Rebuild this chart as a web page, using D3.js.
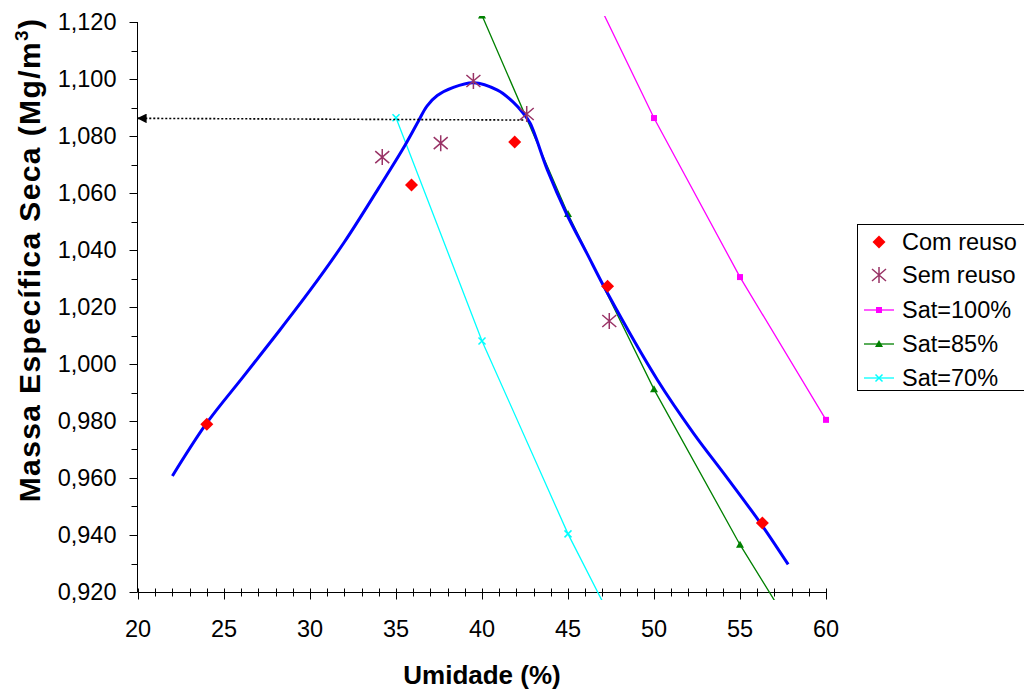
<!DOCTYPE html>
<html><head><meta charset="utf-8">
<script src="https://cdn.jsdelivr.net/npm/d3@7"></script>
<style>body{margin:0;background:#fff}svg{display:block;font-family:"Liberation Sans",Arial,sans-serif}</style>
</head><body><svg id="c" width="1024" height="690"></svg>
<script>
// ---- data ----
const comReusoX = [24.0, 35.9, 41.9, 47.3, 56.3];
const comReusoY = [0.9789, 1.0628, 1.0779, 1.0273, 0.9442];
const semReusoX = [34.2, 37.6, 39.5, 42.6, 47.4];
const semReusoY = [1.0726, 1.0775, 1.0993, 1.0877, 1.0151];
const sat100X = [45, 50, 55, 60];
const sat100Y = [1.1487, 1.0863, 1.0305, 0.9804];
const sat85X = [40, 45, 50, 55, 60];
const sat85Y = [1.1223, 1.0526, 0.9911, 0.9366, 0.8878];
const sat70X = [35, 40, 45, 50];
const sat70Y = [1.0864, 1.0081, 0.9404, 0.8812];
const fitX = [22.0, 24.0, 26.1, 28.0, 30.0, 32.0, 34.0, 35.5, 36.3, 36.8, 37.4, 38.3, 39.5, 40.9, 41.8, 42.4, 42.8, 43.8, 44.9, 46.1, 47.3, 50.2, 52.3, 54.2, 56.2, 57.8];
const fitY = [0.9607, 0.9793, 0.9954, 1.0100, 1.0258, 1.0428, 1.0618, 1.0765, 1.0852, 1.0905, 1.0942, 1.0970, 1.0987, 1.0961, 1.0920, 1.0880, 1.0845, 1.0681, 1.0529, 1.0388, 1.0248, 0.9944, 0.9757, 0.9605, 0.9441, 0.9297];
const refLineX = [42.4, 20];
const refLineY = [1.0856, 1.0862];
const xTicks = [20, 25, 30, 35, 40, 45, 50, 55, 60];
const yTicks = [0.92, 0.94, 0.96, 0.98, 1.00, 1.02, 1.04, 1.06, 1.08, 1.10, 1.12];
const legendLabels = ["Com reuso", "Sem reuso", "Sat=100%", "Sat=85%", "Sat=70%"];

// ---- chart ----
const svg = d3.select("#c");
const x = d3.scaleLinear().domain([20, 60]).range([138, 826]);
const y = d3.scaleLinear().domain([0.92, 1.12]).range([592, 22]);
const fmt = v => d3.format(".3f")(v).replace(".", ",");

svg.append("defs").append("clipPath").attr("id", "clip")
  .append("rect").attr("x", 120).attr("y", 16).attr("width", 720).attr("height", 584);
svg.select("defs").append("marker").attr("id", "arr").attr("viewBox", "0 0 10 10")
  .attr("refX", 9).attr("refY", 5).attr("markerWidth", 6).attr("markerHeight", 6)
  .attr("orient", "auto").append("path").attr("d", "M0,0L10,5L0,10Z").attr("fill", "#000");

// axes
const yAxis = svg.append("g").attr("transform", "translate(137.5,0)");
yAxis.append("line").attr("y1", y(1.12)).attr("y2", y(0.92)).attr("stroke", "#000");
const yMinor = d3.range(0.92, 1.1201, 0.01);
yAxis.selectAll(".ym").data(yMinor).join("line")
  .attr("x1", -6).attr("x2", 0).attr("y1", d => Math.round(y(d)) + 0.5).attr("y2", d => Math.round(y(d)) + 0.5).attr("stroke", "#000");
yAxis.selectAll(".yM").data(yTicks).join("line")
  .attr("x1", -8).attr("x2", 0).attr("y1", d => Math.round(y(d)) + 0.5).attr("y2", d => Math.round(y(d)) + 0.5).attr("stroke", "#000");
yAxis.selectAll("text").data(yTicks).join("text")
  .attr("x", -21).attr("y", d => y(d)).attr("dy", "0.36em").attr("text-anchor", "end")
  .attr("font-size", 23.5).text(fmt);

const xAxis = svg.append("g").attr("transform", "translate(0,592.5)");
xAxis.append("line").attr("x1", x(20)).attr("x2", x(60)).attr("stroke", "#000");
xAxis.selectAll(".xm").data(d3.range(20, 61, 1)).join("line")
  .attr("x1", d => Math.round(x(d)) + 0.5).attr("x2", d => Math.round(x(d)) + 0.5)
  .attr("y1", -4).attr("y2", d => d % 5 === 0 ? 7 : 4).attr("stroke", "#000");
xAxis.selectAll("text").data(xTicks).join("text")
  .attr("x", d => x(d)).attr("y", 44).attr("text-anchor", "middle")
  .attr("font-size", 23.5).text(d => d);

// titles
svg.append("text").attr("x", 482).attr("y", 684).attr("text-anchor", "middle")
  .attr("font-size", 26).attr("font-weight", "bold").text("Umidade (%)");
const yt = svg.append("text").attr("transform", "translate(40,260) rotate(-90)").attr("text-anchor", "middle")
  .attr("font-size", 30).attr("font-weight", "bold").attr("letter-spacing", 1.4);
yt.append("tspan").text("Massa Específica Seca (Mg/m");
yt.append("tspan").attr("dy", -12).attr("font-size", 19).text("3");
yt.append("tspan").attr("dy", 12).text(")");

const plot = svg.append("g").attr("clip-path", "url(#clip)");
const line = d3.line().x(d => x(d[0])).y(d => y(d[1]));
const zip = (a, b) => a.map((v, i) => [v, b[i]]);

// saturation lines
const sats = [
  {X: sat100X, Y: sat100Y, c: "#FF00FF", m: "square"},
  {X: sat85X, Y: sat85Y, c: "#008000", m: "tri"},
  {X: sat70X, Y: sat70Y, c: "#00FFFF", m: "x"}
];
function marker(g, type, c, px, py) {
  if (type === "square") g.append("rect").attr("x", px - 3).attr("y", py - 3).attr("width", 6).attr("height", 6).attr("fill", c);
  else if (type === "tri") g.append("path").attr("d", `M${px},${py-4}L${px+4},${py+3}L${px-4},${py+3}Z`).attr("fill", c);
  else if (type === "x") g.append("path").attr("d", `M${px-3.5},${py-3.5}L${px+3.5},${py+3.5}M${px-3.5},${py+3.5}L${px+3.5},${py-3.5}`).attr("stroke", c).attr("stroke-width", 1.5);
  else if (type === "diamond") g.append("path").attr("d", `M${px},${py-6.5}L${px+6.5},${py}L${px},${py+6.5}L${px-6.5},${py}Z`).attr("fill", c);
  else if (type === "star") g.append("path").attr("d", `M${px},${py-8}L${px},${py+8}M${px-7},${py-6}L${px+7},${py+6}M${px-7},${py+6}L${px+7},${py-6}`).attr("stroke", c).attr("stroke-width", 1.5);
}
sats.forEach(s => {
  plot.append("path").datum(zip(s.X, s.Y)).attr("d", line).attr("fill", "none").attr("stroke", s.c).attr("stroke-width", 1.3);
  s.X.forEach((v, i) => marker(plot, s.m, s.c, x(v), y(s.Y[i])));
});

// reference dotted line
svg.append("path").datum(zip(refLineX, refLineY)).attr("d", line).attr("fill", "none")
  .attr("stroke", "#000").attr("stroke-width", 1.6).attr("stroke-dasharray", "2,2").attr("marker-end", "url(#arr)");

// fitted curve
plot.append("path").datum(zip(fitX, fitY)).attr("d", line.curve(d3.curveCatmullRom.alpha(0.5)))
  .attr("fill", "none").attr("stroke", "#0000FF").attr("stroke-width", 3);

// points
comReusoX.forEach((v, i) => marker(plot, "diamond", "#FF0000", x(v), y(comReusoY[i])));
semReusoX.forEach((v, i) => marker(plot, "star", "#993366", x(v), y(semReusoY[i])));

// legend
const lg = svg.append("g");
lg.append("rect").attr("x", 857.5).attr("y", 224.5).attr("width", 180).attr("height", 166).attr("fill", "#fff").attr("stroke", "#000");
const items = [
  {m: "diamond", c: "#FF0000", l: false},
  {m: "star", c: "#993366", l: false},
  {m: "square", c: "#FF00FF", l: true},
  {m: "tri", c: "#008000", l: true},
  {m: "x", c: "#00FFFF", l: true}
];
const ly = [242, 275, 310, 344, 378];
items.forEach((it, i) => {
  const cy = ly[i];
  if (it.l) lg.append("line").attr("x1", 864).attr("x2", 894).attr("y1", cy).attr("y2", cy).attr("stroke", it.c).attr("stroke-width", 1.3);
  const mg = lg.append("g");
  marker(mg, it.m, it.c, 879, cy);
  lg.append("text").attr("x", 902).attr("y", cy).attr("dy", "0.36em").attr("font-size", 23.5).text(legendLabels[i]);
});
</script></body></html>
